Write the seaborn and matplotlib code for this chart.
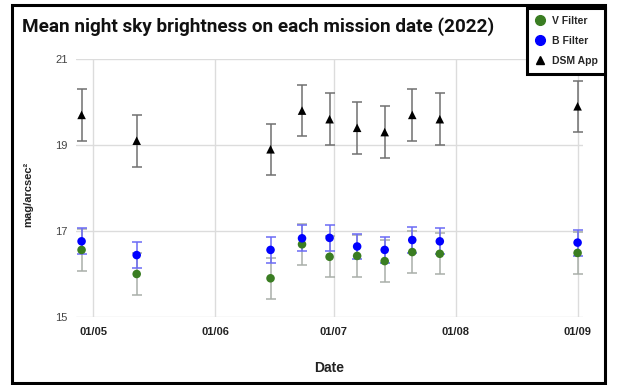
import matplotlib
matplotlib.use("Agg")
import matplotlib.pyplot as plt
from matplotlib.lines import Line2D
from matplotlib.patches import Rectangle
import seaborn as sns
import pandas as pd

# ---- data ----
dates = ["2022-04-28", "2022-05-12", "2022-06-15", "2022-06-23", "2022-06-30",
         "2022-07-07", "2022-07-14", "2022-07-21", "2022-07-28", "2022-09-01"]
v_filter = [16.56, 16.00, 15.90, 16.69, 16.40, 16.42, 16.30, 16.51, 16.47, 16.49]
b_filter = [16.76, 16.44, 16.56, 16.83, 16.84, 16.64, 16.56, 16.79, 16.76, 16.73]
dsm_app = [19.70, 19.10, 18.90, 19.80, 19.60, 19.40, 19.30, 19.70, 19.60, 19.90]
v_err = [0.48] * 10
b_err = [0.30] * 10
dsm_err = [0.60] * 10
month_ticks = ["2022-05-01", "2022-06-01", "2022-07-01", "2022-08-01", "2022-09-01"]
month_labels = ["01/05", "01/06", "01/07", "01/08", "01/09"]
y_ticks = [15, 17, 19, 21]

df = pd.DataFrame({"date": pd.to_datetime(dates), "V": v_filter, "B": b_filter,
                   "DSM": dsm_app, "Verr": v_err, "Berr": b_err, "DSMerr": dsm_err})

sns.set_theme(style="white")
plt.rcParams["font.family"] = ["Liberation Sans", "DejaVu Sans"]

GREEN = "#3a7d22"
BLUE = "#0000ff"

fig = plt.figure(figsize=(6.19, 3.85), dpi=100)
ax = fig.add_axes([76 / 619, 1 - 317 / 385, (583 - 76) / 619, (317 - 59) / 385])

# error bars
ax.errorbar(df["date"], df["V"], yerr=df["Verr"], fmt="none", ecolor="#a9afa9",
            elinewidth=1.1, capsize=3.3, capthick=1.1, zorder=2)
ax.errorbar(df["date"], df["B"], yerr=df["Berr"], fmt="none", ecolor="#6b6bf5",
            elinewidth=1.1, capsize=3.3, capthick=1.1, zorder=3)
ax.errorbar(df["date"], df["DSM"], yerr=df["DSMerr"], fmt="none", ecolor="#707070",
            elinewidth=1.1, capsize=3.3, capthick=1.1, zorder=3)

sns.scatterplot(data=df, x="date", y="V", color=GREEN, marker="o", s=38,
                edgecolor="none", ax=ax, zorder=4)
sns.scatterplot(data=df, x="date", y="B", color=BLUE, marker="o", s=38,
                edgecolor="none", ax=ax, zorder=5)
sns.scatterplot(data=df, x="date", y="DSM", color="black", marker="^", s=38,
                edgecolor="none", ax=ax, zorder=5)

ax.set_ylim(15, 21)
ax.set_xlim(pd.Timestamp("2022-04-26 14:00"), pd.Timestamp("2022-09-02 09:00"))
ax.set_yticks(y_ticks)
ax.set_yticklabels([str(t) for t in y_ticks], fontsize=8, color="#444444")
ax.set_xticks(pd.to_datetime(month_ticks))
ax.set_xticklabels(month_labels, fontsize=8, fontweight="bold", color="#222222")
ax.tick_params(axis="both", length=0)
ax.tick_params(axis="y", pad=6)
ax.tick_params(axis="x", pad=7)

ax.grid(True, color="#dcdcdc", linewidth=1)
ax.set_axisbelow(True)
for s in ax.spines.values():
    s.set_visible(False)

ax.set_xlabel("Date", fontsize=10, fontweight="bold", color="#222222")
ax.xaxis.set_label_coords(0.5, -0.17)
ax.set_ylabel("mag/arcsec²", fontsize=8, fontweight="bold", color="#222222")
ax.yaxis.set_label_coords(-0.085, 0.475)

fig.text(22 / 619, 1 - 27 / 385, "Mean night sky brightness on each mission date (2022)",
         fontsize=13.6, fontweight="bold", family=["Roboto", "DejaVu Sans"],
         color="#111111", va="center", ha="left")

# outer frame
fig.patches.append(Rectangle((12 / 619, 2 / 385), (605 - 12) / 619, (380 - 2) / 385,
                             transform=fig.transFigure, fill=False,
                             edgecolor="black", linewidth=2.2))

handles = [Line2D([], [], linestyle="none", marker="o", color=GREEN, markersize=7),
           Line2D([], [], linestyle="none", marker="o", color=BLUE, markersize=7),
           Line2D([], [], linestyle="none", marker="^", color="black", markersize=6)]
leg = fig.legend(handles, ["V Filter", "B Filter", "DSM App"], loc="upper left",
                 bbox_to_anchor=(522 / 619, 1 - 3 / 385), frameon=True, fancybox=False,
                 prop={"weight": "bold", "size": 7.5}, handlelength=1.0,
                 handletextpad=0.6, labelspacing=0.95, borderpad=0.75)
leg.get_frame().set_edgecolor("black")
leg.get_frame().set_linewidth(2.2)
leg.get_frame().set_alpha(1)

fig.savefig("out.png", dpi=100)
